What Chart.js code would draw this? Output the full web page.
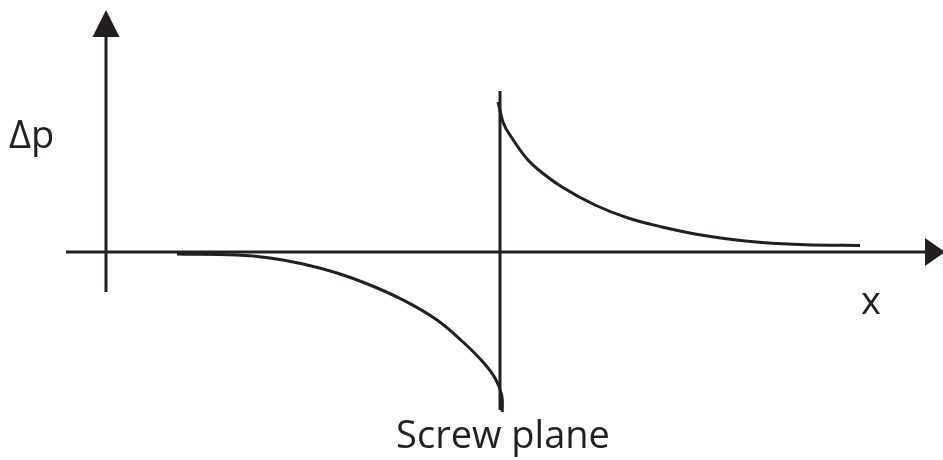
<!DOCTYPE html>
<html lang="en">
<head>
    <meta charset="UTF-8">
    <title>Pressure difference around the screw plane</title>
    <script src="https://cdn.jsdelivr.net/npm/chart.js"></script>
    <style>
        html, body { margin: 0; padding: 0; background: #fff; }
        canvas { display: block; }
    </style>
</head>
<body>
    <canvas id="chart" width="943" height="460"></canvas>

    <script>
        // curve (x: distance from screw plane, y: delta p, arbitrary units)
        const aheadX = [-3.23, -2.63, -2.30, -1.97, -1.63, -1.30, -0.97, -0.63, -0.37, -0.17, -0.05, 0.017, 0.023];
        const aheadY = [-0.02, -0.03, -0.06, -0.12, -0.21, -0.33, -0.48, -0.68, -0.90, -1.10, -1.26, -1.43, -1.60];
        const behindX = [-0.02, 0.03, 0.12, 0.28, 0.45, 0.62, 0.95, 1.28, 1.62, 1.95, 2.28, 2.62, 3.05, 3.60];
        const behindY = [1.50, 1.30, 1.14, 0.92, 0.77, 0.65, 0.47, 0.34, 0.25, 0.18, 0.13, 0.095, 0.072, 0.065];

        // axis lines and screw plane marker
        const xAxisLine = [[-4.34, 0], [4.28, 0]];
        const yAxisLine = [[-3.94, -0.40], [-3.94, 2.15]];
        const planeLine = [[0, 1.61], [0, -1.58]];

        const labels = { y: 'Δp', x: 'x', plane: 'Screw plane' };

        const INK = '#231f20';
        const toPts = (xs, ys) => xs.map((x, i) => ({ x: x, y: ys[i] }));
        const pairPts = arr => arr.map(p => ({ x: p[0], y: p[1] }));

        // mode: 'straight', 'spline' or 'monotone'
        function lineSet(data, mode) {
            return {
                data: data,
                showLine: true,
                borderColor: INK,
                borderWidth: 3,
                pointRadius: 0,
                tension: mode === 'spline' ? 0.4 : 0,
                cubicInterpolationMode: mode === 'monotone' ? 'monotone' : 'default',
                fill: false
            };
        }

        const schematicPlugin = {
            id: 'schematicPlugin',
            afterDatasetsDraw(chart) {
                const {ctx, scales: {x, y}} = chart;
                ctx.save();
                ctx.fillStyle = INK;

                // arrowheads
                const xTip = x.getPixelForValue(4.45), xBase = x.getPixelForValue(4.25), y0 = y.getPixelForValue(0);
                ctx.beginPath();
                ctx.moveTo(xTip, y0);
                ctx.lineTo(xBase, y0 - 14);
                ctx.lineTo(xBase, y0 + 14);
                ctx.closePath();
                ctx.fill();

                const yTip = y.getPixelForValue(2.42), yBase = y.getPixelForValue(2.15), x0 = x.getPixelForValue(-3.94);
                ctx.beginPath();
                ctx.moveTo(x0, yTip);
                ctx.lineTo(x0 - 13.5, yBase);
                ctx.lineTo(x0 + 13.5, yBase);
                ctx.closePath();
                ctx.fill();

                // labels
                ctx.font = '38px "Open Sans"';
                ctx.textBaseline = 'alphabetic';
                ctx.textAlign = 'left';
                ctx.fillText(labels.y, x.getPixelForValue(-4.91), y.getPixelForValue(1.04));
                ctx.fillText(labels.x, x.getPixelForValue(3.61), y.getPixelForValue(-0.62));
                ctx.textAlign = 'center';
                ctx.fillText(labels.plane, x.getPixelForValue(0.03), y.getPixelForValue(-1.96));
                ctx.restore();
            }
        };

        new Chart(document.getElementById('chart').getContext('2d'), {
            type: 'scatter',
            data: {
                datasets: [
                    lineSet(pairPts(xAxisLine), 'straight'),
                    lineSet(pairPts(yAxisLine), 'straight'),
                    lineSet(pairPts(planeLine), 'straight'),
                    lineSet(toPts(aheadX, aheadY), 'spline'),
                    lineSet(toPts(behindX, behindY), 'monotone')
                ]
            },
            options: {
                responsive: false,
                animation: false,
                layout: { padding: 0 },
                plugins: {
                    legend: { display: false },
                    tooltip: { enabled: false }
                },
                scales: {
                    x: { type: 'linear', min: -5, max: 4.43, display: false },
                    y: { type: 'linear', min: -2.08, max: 2.52, display: false }
                }
            },
            plugins: [schematicPlugin]
        });
    </script>
</body>
</html>
